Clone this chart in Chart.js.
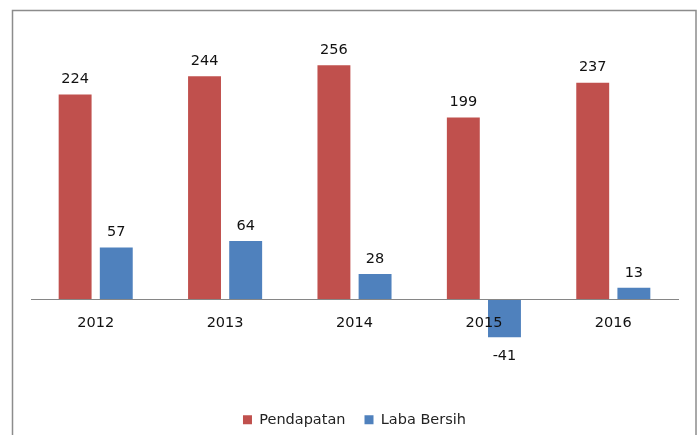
<!DOCTYPE html>
<html><head><meta charset="utf-8">
<script src="https://cdn.jsdelivr.net/npm/chart.js@4.4.1/dist/chart.umd.min.js"></script>
<style>html,body{margin:0;padding:0;background:#fff;overflow:hidden}</style>
</head><body>
<canvas id="c" width="700" height="435" style="display:block"></canvas>
<script>
const years = ['2012', '2013', '2014', '2015', '2016'];
const pendapatan = [224, 244, 256, 199, 237];
const labaBersih = [57, 64, 28, -41, 13];
const seriesNames = ['Pendapatan', 'Laba Bersih'];

const FONT_FAMILY = '"DejaVu Sans", sans-serif';
const FONT_SIZE = 14.5;

const frame = {
  id: 'frame',
  beforeDraw(chart) {
    const ctx = chart.ctx;
    ctx.save();
    ctx.fillStyle = '#ffffff';
    ctx.fillRect(0, 0, chart.width, chart.height);
    ctx.strokeStyle = '#8c8c8c';
    ctx.lineWidth = 1.5;
    ctx.strokeRect(12.5, 10.5, 683.5, 460);
    ctx.restore();
  }
};

const valueLabels = {
  id: 'valueLabels',
  afterDatasetsDraw(chart) {
    const ctx = chart.ctx;
    ctx.save();
    ctx.font = FONT_SIZE + 'px ' + FONT_FAMILY;
    ctx.fillStyle = '#111';
    ctx.textAlign = 'center';
    ctx.textBaseline = 'middle';
    chart.data.datasets.forEach((ds, i) => {
      const meta = chart.getDatasetMeta(i);
      meta.data.forEach((bar, j) => {
        const v = ds.data[j];
        const y = v >= 0 ? bar.y - 15 : bar.y + 19;
        ctx.fillText(String(v), bar.x, y);
      });
    });
    ctx.restore();
  }
};

new Chart(document.getElementById('c'), {
  type: 'bar',
  data: {
    labels: years,
    datasets: [
      { label: seriesNames[0], data: pendapatan, backgroundColor: '#C0504D', borderWidth: 0 },
      { label: seriesNames[1], data: labaBersih, backgroundColor: '#4F81BD', borderWidth: 0 }
    ]
  },
  options: {
    responsive: false,
    animation: false,
    devicePixelRatio: 1,
    categoryPercentage: 0.636,
    barPercentage: 0.8,
    layout: { padding: { left: 31, right: 22, top: 25, bottom: -2 } },
    plugins: {
      tooltip: { enabled: false },
      legend: {
        position: 'bottom',
        labels: {
          boxWidth: 9,
          boxHeight: 9,
          padding: 19,
          color: '#222',
          font: { family: FONT_FAMILY, size: FONT_SIZE }
        }
      }
    },
    scales: {
      x: {
        position: { y: 0 },
        grid: { display: false, drawTicks: false },
        border: { display: true, color: '#868686', width: 1, z: 1 },
        ticks: { z: 1, padding: 15, color: '#111', font: { family: FONT_FAMILY, size: FONT_SIZE } }
      },
      y: {
        display: false,
        min: -102.5,
        max: 300
      }
    }
  },
  plugins: [frame, valueLabels]
});
</script>
</body></html>
